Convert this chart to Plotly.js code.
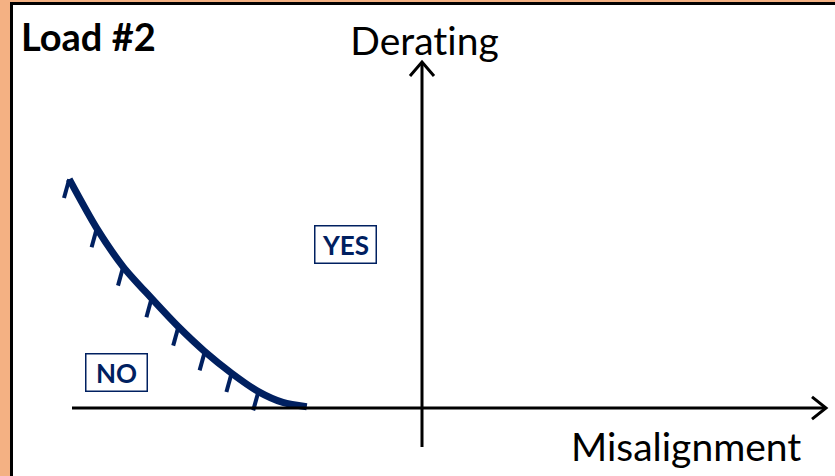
<!DOCTYPE html>
<html>
<head>
<meta charset="utf-8">
<script src="https://cdn.plot.ly/plotly-3.0.1.min.js"></script>
<style>html,body{margin:0;padding:0;background:#F4B183;}#chart{width:835px;height:476px;}
#chart text{font-variant-ligatures:none;font-feature-settings:"liga" 0;}</style>
</head>
<body>
<div id="chart"></div>
<script>
// Conceptual diagram data (arbitrary units, origin at axes crossing)
const misalignment = [-8.82, -8.13, -7.47, -6.76, -6.09, -5.43, -4.76, -4.09, -3.48, -2.88];
const derating     = [ 5.72,  4.49,  3.53,  2.74,  2.03,  1.41,  0.87,  0.41,  0.14,  0.03];
const hatchIndex   = [0, 1, 2, 3, 4, 5, 6, 7];
const xAxisSpan = [-8.75, 10.1];
const yAxisSpan = [-0.975, 8.65];
const labels = {x: 'Misalignment', y: 'Derating', title: 'Load #2', yes: 'YES', no: 'NO'};

const NAVY = '#002060';
const hatchDx = -0.13, hatchDy = -0.47;

const hx = [], hy = [];
hatchIndex.forEach(i => {
  hx.push(misalignment[i], misalignment[i] + hatchDx, null);
  hy.push(derating[i], derating[i] + hatchDy, null);
});

const traces = [
  {x: misalignment, y: derating, mode: 'lines', line: {color: NAVY, width: 7, shape: 'spline', smoothing: 0.8},
   hoverinfo: 'skip', showlegend: false},
  {x: hx, y: hy, mode: 'lines', line: {color: NAVY, width: 4}, hoverinfo: 'skip', showlegend: false}
];

const W = 835, H = 476;
const shapes = [
  {type: 'rect', xref: 'paper', yref: 'paper', x0: 11.5 / W, x1: 1.02, y0: -0.02, y1: 1 - 3.5 / H,
   line: {color: '#000', width: 3}, fillcolor: '#fff', layer: 'below'},
  {type: 'line', x0: xAxisSpan[0], x1: xAxisSpan[1], y0: 0, y1: 0, line: {color: '#000', width: 3}},
  {type: 'line', x0: 0, x1: 0, y0: yAxisSpan[0], y1: yAxisSpan[1], line: {color: '#000', width: 3}},
  {type: 'path', path: `M ${xAxisSpan[1]-0.35} 0.28 L ${xAxisSpan[1]} 0 L ${xAxisSpan[1]-0.35} -0.28`,
   line: {color: '#000', width: 3}},
  {type: 'path', path: `M -0.3 ${yAxisSpan[1]-0.35} L 0 ${yAxisSpan[1]} L 0.3 ${yAxisSpan[1]-0.35}`,
   line: {color: '#000', width: 3}}
];

const FONT = 'Lato, "Open Sans", sans-serif';
const annotations = [
  {x: -10.08, y: 9.3, xanchor: 'left', yanchor: 'middle', text: '<b>' + labels.title + '</b>', showarrow: false,
   font: {family: FONT, size: 38, color: '#000'}},
  {x: 0.05, y: 9.2, xanchor: 'center', yanchor: 'middle', text: labels.y, showarrow: false,
   font: {family: FONT, size: 39, color: '#000'}},
  {x: 6.6, y: -0.95, xanchor: 'center', yanchor: 'middle', text: labels.x, showarrow: false,
   font: {family: FONT, size: 39, color: '#000'}},
  {x: -1.925, y: 4.09, xanchor: 'center', yanchor: 'middle', text: '<b>' + labels.yes + '</b>', showarrow: false,
   font: {family: FONT, size: 26, color: NAVY}, bordercolor: NAVY, borderwidth: 1.5, borderpad: 4, width: 52, height: 28},
  {x: -7.64, y: 0.9, xanchor: 'center', yanchor: 'middle', text: '<b>' + labels.no + '</b>', showarrow: false,
   font: {family: FONT, size: 26, color: NAVY}, bordercolor: NAVY, borderwidth: 1.5, borderpad: 4, width: 52, height: 28}
];

const layout = {
  width: W, height: H,
  margin: {l: 0, r: 0, t: 0, b: 0},
  paper_bgcolor: '#F4B183',
  plot_bgcolor: 'rgba(0,0,0,0)',
  xaxis: {range: [(0 - 422) / 40, (W - 422) / 40], visible: false, fixedrange: true},
  yaxis: {range: [(408 - H) / 40, 408 / 40], visible: false, fixedrange: true},
  shapes: shapes,
  annotations: annotations,
  showlegend: false
};

Plotly.newPlot('chart', traces, layout, {displayModeBar: false, staticPlot: true});
</script>
</body>
</html>
